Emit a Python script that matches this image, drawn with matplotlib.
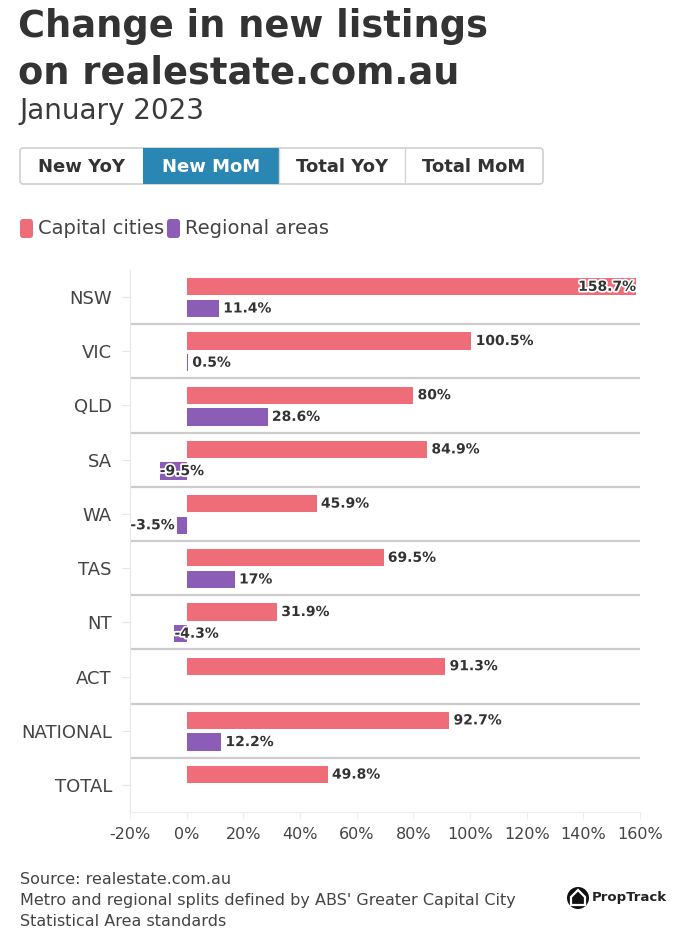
import matplotlib
matplotlib.use("Agg")
import matplotlib.pyplot as plt
import matplotlib.patheffects as pe
from matplotlib.patches import FancyBboxPatch, Rectangle, Circle, Polygon
import numpy as np

# ---- data ----
regions = ["NSW", "VIC", "QLD", "SA", "WA", "TAS", "NT", "ACT", "NATIONAL", "TOTAL"]
capital = [158.7, 100.5, 80.0, 84.9, 45.9, 69.5, 31.9, 91.3, 92.7, 49.8]
regional = [11.4, 0.5, 28.6, -9.5, -3.5, 17.0, -4.3, np.nan, 12.2, np.nan]
xticks = [-20, 0, 20, 40, 60, 80, 100, 120, 140, 160]
buttons = ["New YoY", "New MoM", "Total YoY", "Total MoM"]

CAP_COL = "#ef6d79"
REG_COL = "#8b5db6"
BLUE = "#2a86b2"
DARK = "#333333"
GREY = "#444444"

W, H = 676, 942
fig = plt.figure(figsize=(W / 100, H / 100), dpi=100)
fig.patch.set_facecolor("white")

# background axes in pixel coordinates for the header / footer stuff
bg = fig.add_axes([0, 0, 1, 1])
bg.set_xlim(0, W)
bg.set_ylim(H, 0)
bg.axis("off")

# title
bg.text(18, 37, "Change in new listings", fontsize=26.5, fontweight="bold",
        color=DARK, va="baseline", ha="left")
bg.text(18, 83, "on realestate.com.au", fontsize=26.5, fontweight="bold",
        color=DARK, va="baseline", ha="left")
bg.text(19, 119, "January 2023", fontsize=20, color="#3a3a3a", va="baseline", ha="left")

# the toggle buttons
edges = [20, 143, 279, 405, 543]
bg.add_patch(FancyBboxPatch((20, 148), 523, 36, boxstyle="round,pad=0,rounding_size=3",
                            facecolor="white", edgecolor="#cfcfcf", lw=1.2))
for i, lab in enumerate(buttons):
    x0, x1 = edges[i], edges[i + 1]
    if i == 1:
        bg.add_patch(Rectangle((x0, 148), x1 - x0, 36, facecolor=BLUE, edgecolor="none"))
        col = "white"
    else:
        col = DARK
    if i > 1:
        bg.plot([x0, x0], [148, 184], color="#d5d5d5", lw=1)
    bg.text((x0 + x1) / 2, 167, lab, fontsize=13, fontweight="bold", color=col,
            ha="center", va="center")

# legend
bg.add_patch(FancyBboxPatch((20, 219), 13, 19, boxstyle="round,pad=0,rounding_size=3",
                            facecolor=CAP_COL, edgecolor="none"))
bg.text(38, 229, "Capital cities", fontsize=14, color=GREY, va="center", ha="left")
bg.add_patch(FancyBboxPatch((167, 219), 13, 19, boxstyle="round,pad=0,rounding_size=3",
                            facecolor=REG_COL, edgecolor="none"))
bg.text(185, 229, "Regional areas", fontsize=14, color=GREY, va="center", ha="left")

# footer
bg.text(20, 880, "Source: realestate.com.au", fontsize=11.5, color=GREY, va="center")
bg.text(20, 901, "Metro and regional splits defined by ABS' Greater Capital City",
        fontsize=11.5, color=GREY, va="center")
bg.text(20, 922, "Statistical Area standards", fontsize=11.5, color=GREY, va="center")

# PropTrack logo
bg.add_patch(Circle((578, 898), 11, facecolor="#111111", edgecolor="none"))
bg.add_patch(Polygon([[571, 897], [578, 890], [585, 897], [585, 905], [571, 905]],
                     closed=True, facecolor="none", edgecolor="white", lw=1.6))
bg.text(592, 898, "PropTrack", fontsize=9.5, fontweight="bold", color="#222222",
        va="center", ha="left")

# ---- chart ----
ax = fig.add_axes([130 / W, 1 - 812 / H, (640 - 130) / W, (812 - 270) / H])
ax.set_facecolor("none")

y = np.arange(len(regions))
bar_h = 0.32
ax.barh(y - 0.19, capital, height=bar_h, color=CAP_COL, zorder=3)
ax.barh(y + 0.21, regional, height=bar_h, color=REG_COL, zorder=3)

ax.set_xlim(-20, 160)
ax.set_ylim(len(regions) - 0.5, -0.5)

# separators between states
for i in range(len(regions) - 1):
    ax.axhline(i + 0.5, color="#cccccc", lw=1.6, zorder=1)

stroke = [pe.withStroke(linewidth=2.5, foreground="white")]


def put_label(v, yy):
    if np.isnan(v):
        return
    txt = f"{v:g}%"
    if v > 150:
        x, ha = v, "right"
    elif v >= 0:
        x, ha = v + 1.5, "left"
    elif abs(v) < 4:
        x, ha = v - 0.7, "right"
    else:
        x, ha = v, "left"
    ax.text(x, yy, txt, fontsize=10, fontweight="bold", color=DARK, ha=ha,
            va="center", zorder=5, path_effects=stroke)


for i in range(len(regions)):
    put_label(capital[i], y[i] - 0.19)
    put_label(regional[i], y[i] + 0.21)

ax.set_yticks(y)
ax.set_yticklabels(regions, fontsize=13, color=GREY)
ax.set_xticks(xticks)
ax.set_xticklabels([f"{t}%" for t in xticks], fontsize=11.5, color=GREY)
ax.tick_params(axis="y", length=6, color="#e6e6e6", pad=7)
ax.tick_params(axis="x", length=5, color="#eeeeee", pad=6)

for s in ["top", "right"]:
    ax.spines[s].set_visible(False)
ax.spines["left"].set_color("#e6e6e6")
ax.spines["bottom"].set_color("#eeeeee")

fig.savefig("out.png", dpi=100, facecolor="white")
